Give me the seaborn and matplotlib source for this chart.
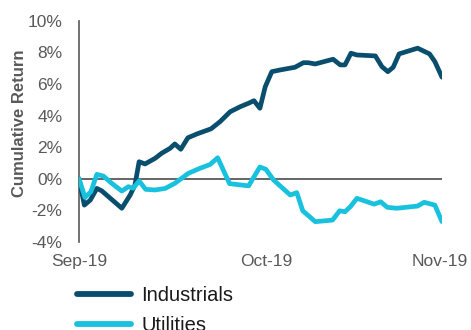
import matplotlib
matplotlib.use("Agg")
import matplotlib.pyplot as plt
import seaborn as sns
import pandas as pd

# ---- data ----
ind_day = [0, 0.9, 1.9, 3.0, 3.8, 7.2, 8.6, 9.4, 10.1, 11.1, 12.8, 13.9, 15.3, 16.1,
           17.1, 18.3, 19.8, 22.2, 23.7, 25.4, 27.1, 28.5, 29.4, 30.4, 31.3, 32.4,
           33.8, 36.3, 37.7, 38.5, 39.7, 42.7, 43.9, 44.7, 45.7, 46.7, 49.8, 50.9,
           51.9, 52.8, 53.8, 56.9, 58.9, 59.8, 61.0]
ind_ret = [0.00, -1.68, -1.36, -0.62, -0.77, -1.88, -1.04, -0.41, 1.07, 0.93, 1.29,
           1.61, 1.92, 2.20, 1.86, 2.59, 2.83, 3.16, 3.61, 4.24, 4.56, 4.78, 4.94,
           4.46, 5.83, 6.78, 6.89, 7.06, 7.35, 7.35, 7.27, 7.57, 7.21, 7.21, 7.95,
           7.84, 7.78, 7.10, 6.78, 7.06, 7.91, 8.27, 7.91, 7.42, 6.43]

utl_day = [0, 1.0, 2.0, 3.0, 4.1, 5.5, 7.2, 8.3, 9.1, 10.1, 11.2, 12.8, 14.5, 16.1,
           18.4, 20.3, 22.0, 23.3, 25.3, 28.5, 30.4, 31.4, 32.7, 35.5, 36.6, 37.6,
           39.7, 42.6, 43.8, 44.7, 45.6, 46.7, 49.6, 50.7, 51.8, 53.4, 56.9, 58.0,
           59.8, 61.0]
utl_ret = [0.00, -1.19, -0.83, 0.27, 0.16, -0.30, -0.79, -0.51, -0.61, -0.15, -0.68,
           -0.72, -0.62, -0.30, 0.34, 0.65, 0.89, 1.32, -0.32, -0.46, 0.74, 0.59,
           -0.09, -1.04, -0.89, -2.04, -2.73, -2.63, -2.04, -2.10, -1.78, -1.25,
           -1.62, -1.47, -1.82, -1.88, -1.74, -1.50, -1.68, -2.73]

series_names = ["Industrials", "Utilities"]
series_colors = ["#0A4E6E", "#18C1DD"]
x_tick_labels = ["Sep-19", "Oct-19", "Nov-19"]
y_ticks = [-4, -2, 0, 2, 4, 6, 8, 10]

df = pd.concat([
    pd.DataFrame({"day": ind_day, "ret": ind_ret, "Sector": series_names[0]}),
    pd.DataFrame({"day": utl_day, "ret": utl_ret, "Sector": series_names[1]}),
], ignore_index=True)

sns.set_style("white")
plt.rcParams["font.family"] = ["Liberation Sans", "DejaVu Sans"]

fig = plt.figure(figsize=(4.71, 3.30), dpi=100)
ax = fig.add_axes([79 / 471, 1 - 241.7 / 330, (442 - 79) / 471, (241.7 - 20.9) / 330])

ax.axhline(0, color="#595959", lw=1.3, zorder=1)
sns.lineplot(data=df, x="day", y="ret", hue="Sector", palette=series_colors,
             hue_order=series_names, lw=3.4, ax=ax, sort=False, zorder=3,
             legend=False)

ax.set_xlim(0, 61)
ax.set_ylim(-4, 10)
ax.set_yticks(y_ticks)
ax.set_yticklabels([f"{v}%" for v in y_ticks])
ax.set_xticks([0, 31.4, 60.7])
ax.set_xticklabels(x_tick_labels)
ax.tick_params(axis="both", length=0, labelsize=12.5, labelcolor="#595959")
ax.tick_params(axis="y", pad=12)
ax.tick_params(axis="x", pad=9)

for s in ["top", "right", "bottom"]:
    ax.spines[s].set_visible(False)
ax.spines["left"].set_color("#595959")
ax.spines["left"].set_linewidth(1.2)

ax.set_xlabel("")
ax.set_ylabel("")
fig.text(20 / 471, 1 - 123 / 330, "Cumulative Return", rotation=90, ha="center",
         va="center", fontsize=12, fontweight="bold", color="#595959")

handles = [plt.Line2D([], [], color=c, lw=4.2) for c in series_colors]
fig.legend(handles, series_names, loc="upper left",
           bbox_to_anchor=(77 / 471, 1 - 286 / 330), frameon=False,
           fontsize=14.5, handlelength=2.7, handletextpad=0.5,
           labelspacing=0.55, borderpad=0, borderaxespad=0,
           labelcolor="#1a1a1a")

fig.savefig("out.png", dpi=100)
